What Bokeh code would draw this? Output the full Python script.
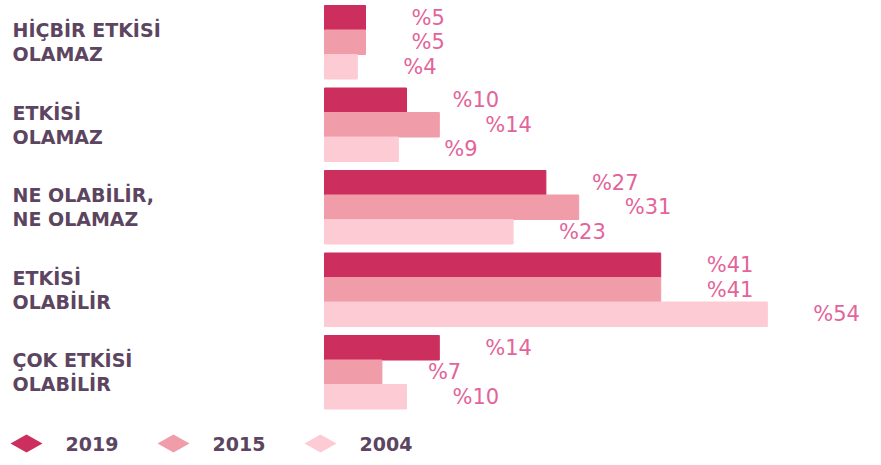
from bokeh.plotting import figure
from bokeh.models import Range1d, ColumnDataSource
from bokeh.embed import file_html
from bokeh.resources import INLINE
from bokeh.core.properties import value

# ---- data ----
categories = ["HİÇBİR ETKİSİ\nOLAMAZ", "ETKİSİ\nOLAMAZ", "NE OLABİLİR,\nNE OLAMAZ",
              "ETKİSİ\nOLABİLİR", "ÇOK ETKİSİ\nOLABİLİR"]
years = ["2019", "2015", "2004"]
v2019 = [5, 10, 27, 41, 14]
v2015 = [5, 14, 31, 41, 7]
v2004 = [4, 9, 23, 54, 10]
series = [v2019, v2015, v2004]
colors = ["#cc2f5e", "#f09ca9", "#fccbd4"]

# ---- layout constants ----
W, H = 878, 462
PXU = 8.2          # px per percentage unit
X0 = 324           # px of zero within figure
Y0 = 5             # px of first group top
PITCH = 82.5       # px per category group
BH = 24.5 / PITCH  # bar height in group units

p = figure(width=W, height=H, output_backend="svg", toolbar_location=None,
           x_range=Range1d(-X0 / PXU, (W - X0) / PXU),
           y_range=Range1d((H - Y0) / PITCH, -Y0 / PITCH),
           min_border=0, outline_line_color=None, background_fill_color="white")
p.axis.visible = False
p.grid.visible = False

for j, (yr, vals, col) in enumerate(zip(years, series, colors)):
    ys = [i + (j + 0.5) * BH for i in range(len(vals))]
    src = ColumnDataSource(dict(y=ys, v=vals, lab=["%" + str(v) for v in vals]))
    p.hbar(y="y", left=0, right="v", height=BH, color=col, source=src)
    p.text(x="v", y="y", text="lab", source=src, x_offset=46,
           text_baseline="middle", text_align="left",
           text_font=value("DejaVu Sans"), text_font_size="21px", text_color="#e2649a")

# category labels
xs_lab = [-X0 / PXU + 12 / PXU] * len(categories)
ys_lab = [i + 1.5 * BH for i in range(len(categories))]
p.text(x=xs_lab, y=ys_lab, text=categories, text_baseline="middle", text_align="left",
       text_font=value("DejaVu Sans"), text_font_style="bold", text_font_size="19px",
       text_color="#5c4560", text_line_height=1.1)

# legend
leg_y = (443 - Y0) / PITCH
leg_cx = [(26 - X0) / PXU, (173 - X0) / PXU, (320 - X0) / PXU]
hw, hh = 16 / PXU, 9 / PITCH
p.patches(xs=[[c - hw, c, c + hw, c] for c in leg_cx],
          ys=[[leg_y, leg_y - hh, leg_y, leg_y + hh] for _ in leg_cx],
          fill_color=colors, line_color=None)
p.text(x=[c + 39 / PXU for c in leg_cx], y=[leg_y] * 3, text=years,
       text_baseline="middle", text_align="left",
       text_font=value("DejaVu Sans"), text_font_style="bold", text_font_size="19px",
       text_color="#5c4560")

open("out.html", "w").write(file_html(p, INLINE))
